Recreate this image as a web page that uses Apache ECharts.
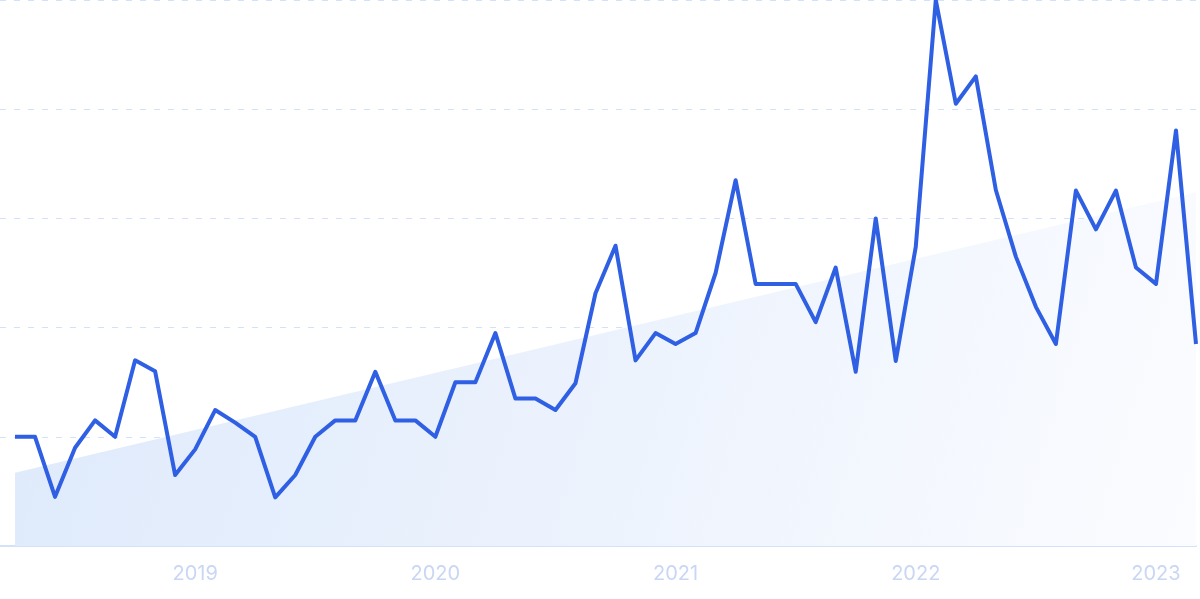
<!DOCTYPE html>
<html>
<head>
<meta charset="utf-8">
<script src="https://cdn.jsdelivr.net/npm/echarts@6/dist/echarts.min.js"></script>
<style>
html,body{margin:0;padding:0;background:#fff;}
#chart{width:1200px;height:599px;}
</style>
</head>
<body>
<div id="chart"></div>
<script>
// Monthly values, April 2018 .. March 2023 (index 0 = 2018-04)
const startYear = 2018;
const startMonth = 4;
const values = [
  20, 20, 9, 18, 23, 20, 34, 32, 13, 17.7, 24.9, 22.6,
  20, 8.9, 13, 20, 23, 23, 31.9, 23, 23, 20, 30, 30,
  39, 27, 27, 24.9, 29.8, 46.3, 55, 34, 39, 37, 39, 50,
  67, 48, 48, 48, 41, 51, 31.9, 60, 33.9, 54.8, 100, 81,
  86, 65.2, 53, 43.8, 37, 65.1, 58, 65.1, 51, 48, 76.1, 37
];
// Trend line endpoints [monthIndex, value]
const trend = [[0, 13.4], [59, 64.8]];
// Year tick labels at January of each year (month indices)
const yearTicks = [9, 21, 33, 45, 57];
const yearLabels = ['2019', '2020', '2021', '2022', '2023'];

const lineData = values.map((v, i) => [i, v]);

const chart = echarts.init(document.getElementById('chart'), null, {renderer: 'canvas'});
chart.setOption({
  animation: false,
  grid: {left: 0, right: 4, top: 0, bottom: 53, containLabel: false},
  xAxis: {
    type: 'value',
    min: -0.75,
    max: 59,
    axisLine: {show: true, lineStyle: {color: '#d3e2fb', width: 2}},
    axisTick: {show: false},
    splitLine: {show: false},
    axisLabel: {
      customValues: yearTicks,
      formatter: function (v) {
        const k = yearTicks.indexOf(Math.round(v));
        return k >= 0 ? yearLabels[k] : '';
      },
      color: '#c9d6f4',
      fontSize: 20,
      fontFamily: 'Inter, Roboto, sans-serif',
      margin: 18
    }
  },
  yAxis: {
    type: 'value',
    min: 0,
    max: 100,
    interval: 20,
    axisLine: {show: false},
    axisTick: {show: false},
    axisLabel: {show: false},
    splitLine: {show: true, lineStyle: {color: '#d3e2fa', type: [6, 8], width: 1}}
  },
  series: [
    {
      type: 'line',
      data: trend,
      symbol: 'none',
      lineStyle: {width: 0},
      areaStyle: {
        opacity: 1,
        color: new echarts.graphic.LinearGradient(0, 0, 1, 1, [
          {offset: 0, color: '#dde9fb'},
          {offset: 1, color: '#fbfcff'}
        ])
      },
      z: 1,
      silent: true
    },
    {
      type: 'line',
      data: lineData,
      symbol: 'none',
      lineStyle: {color: '#2f5fe3', width: 4, join: 'round'},
      clip: false,
      z: 3
    }
  ]
});
</script>
</body>
</html>
